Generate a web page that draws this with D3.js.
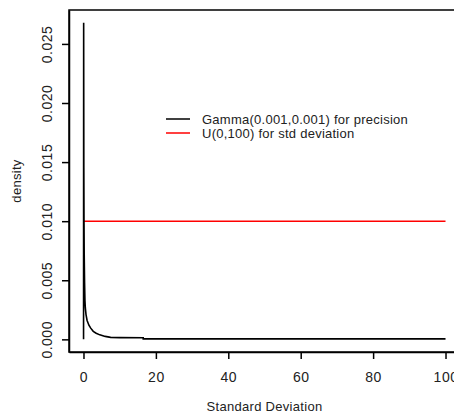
<!DOCTYPE html>
<html>
<head>
<meta charset="utf-8">
<script src="https://cdn.jsdelivr.net/npm/d3@7"></script>
<style>
  body { margin: 0; background: #fff; }
  svg { display: block; font-family: "Liberation Sans", Arial, sans-serif; }
</style>
</head>
<body>
<svg width="454" height="417"></svg>
<script>
// prior on std deviation implied by Gamma(0.001,0.001) on precision
var gammaSd = [0.02, 0.05, 0.1, 0.15, 0.2, 0.3, 0.4, 0.5, 0.7, 1.0, 1.5, 2.0, 2.7, 3.5, 4.5, 6.0, 7.5, 10, 16.5, 16.5, 100];
var gammaDens = [0.0, 0.0268, 0.0145, 0.0098, 0.0072, 0.0048, 0.0033, 0.0027, 0.0021, 0.0016, 0.0012, 0.00095, 0.00068, 0.00052, 0.00038, 0.00025, 0.00017, 0.00015, 0.00014, 0.00004, 0.00004];
// U(0,100) on std deviation
var unifSd = [0, 100];
var unifDens = [0.01, 0.01];

var xTicks = [0, 20, 40, 60, 80, 100];
var yTicks = [0, 0.005, 0.010, 0.015, 0.020, 0.025];
var legendLabels = ["Gamma(0.001,0.001) for precision", "U(0,100) for std deviation"];
var legendColors = ["#000", "#ff0000"];

var svg = d3.select("svg");
var plotL = 69, plotR = 460, plotT = 10, plotB = 352;

var x = d3.scaleLinear().domain([-4, 104]).range([plotL, plotR]);
var y = d3.scaleLinear().domain([-0.00107, 0.02787]).range([plotB, plotT]);

var line = d3.line()
    .x(function(d) { return x(d[0]); })
    .y(function(d) { return y(d[1]); });

svg.append("path")
    .datum(d3.zip(unifSd, unifDens))
    .attr("d", line)
    .attr("fill", "none")
    .attr("stroke", "#ff0000")
    .attr("stroke-width", 1.5);

svg.append("path")
    .datum(d3.zip(gammaSd, gammaDens))
    .attr("d", line)
    .attr("fill", "none")
    .attr("stroke", "#000")
    .attr("stroke-width", 1.6);

// frame
svg.append("rect")
    .attr("x", plotL).attr("y", plotT)
    .attr("width", plotR - plotL).attr("height", plotB - plotT)
    .attr("fill", "none").attr("stroke", "#000").attr("stroke-width", 1.5);

// x axis
var xAxis = svg.append("g")
    .attr("transform", "translate(0," + plotB + ")")
    .call(d3.axisBottom(x).tickValues(xTicks).tickSize(7).tickPadding(13).tickSizeOuter(0)
        .tickFormat(d3.format("d")));
xAxis.select(".domain").attr("stroke-width", 1.5);
xAxis.selectAll(".tick line").attr("stroke-width", 1.5);
xAxis.selectAll("text").attr("font-size", 14).attr("fill", "#222").attr("font-family", null)
    .attr("letter-spacing", 0.5);

// y axis
var yAxis = svg.append("g")
    .attr("transform", "translate(" + plotL + ",0)")
    .call(d3.axisLeft(y).tickValues(yTicks).tickSize(7).tickSizeOuter(0)
        .tickFormat(d3.format(".3f")));
yAxis.select(".domain").attr("stroke-width", 1.5);
yAxis.selectAll(".tick line").attr("stroke-width", 1.5);
yAxis.selectAll("text")
    .attr("font-size", 14).attr("fill", "#222").attr("font-family", null)
    .attr("letter-spacing", 0.5)
    .attr("x", 0).attr("dy", null)
    .attr("text-anchor", "middle")
    .attr("transform", "translate(-17,0) rotate(-90)");

// axis titles
svg.append("text")
    .attr("x", (plotL + plotR) / 2).attr("y", 411)
    .attr("text-anchor", "middle").attr("font-size", 13).attr("letter-spacing", 0.3)
    .attr("fill", "#222")
    .text("Standard Deviation");
svg.append("text")
    .attr("transform", "translate(21," + ((plotT + plotB) / 2) + ") rotate(-90)")
    .attr("text-anchor", "middle").attr("font-size", 13).attr("letter-spacing", 0.3)
    .attr("fill", "#222")
    .text("density");

// legend
var legend = svg.append("g");
legendLabels.forEach(function(lbl, i) {
    var ly = 119 + i * 14;
    legend.append("line")
        .attr("x1", 166).attr("x2", 190).attr("y1", ly).attr("y2", ly)
        .attr("stroke", legendColors[i]).attr("stroke-width", 1.5);
    legend.append("text")
        .attr("x", 202).attr("y", ly).attr("dy", "0.35em")
        .attr("font-size", 13).attr("letter-spacing", 0.25)
        .attr("fill", "#222")
        .text(lbl);
});
</script>
</body>
</html>
